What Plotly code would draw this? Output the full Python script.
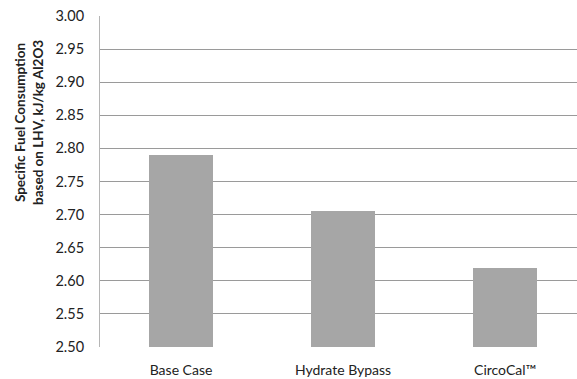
import plotly.graph_objects as go

categories = ["Base Case", "Hydrate Bypass", "CircoCal\u2122"]
fuel_consumption = [2.79, 2.705, 2.62]
y_ticks = [2.50, 2.55, 2.60, 2.65, 2.70, 2.75, 2.80, 2.85, 2.90, 2.95, 3.00]

fig = go.Figure()
fig.add_trace(go.Bar(
    x=categories,
    y=fuel_consumption,
    width=0.4,
    marker=dict(color="#a6a6a6", line=dict(width=0)),
))

font_family = "Lato, 'Open Sans', sans-serif"

fig.update_layout(
    width=577, height=379,
    margin=dict(l=100, r=0, t=16, b=32),
    paper_bgcolor="white",
    plot_bgcolor="white",
    showlegend=False,
    bargap=0,
    font=dict(family=font_family, color="#222"),
    xaxis=dict(
        range=[-0.5, 2.444],
        showgrid=False,
        showline=False,
        ticks="",
        tickfont=dict(size=14, color="#222"),
        ticklabelstandoff=13,
    ),
    yaxis=dict(
        range=[2.5, 3.0],
        tickvals=y_ticks,
        ticktext=[f"{v:.2f}" for v in y_ticks],
        showgrid=True,
        gridcolor="#9a9a9a",
        gridwidth=1,
        showline=True,
        linecolor="#b5b5b5",
        linewidth=1,
        ticks="outside",
        ticklen=0,
        tickfont=dict(size=14.5, color="#222"),
        ticklabelstandoff=12,
        zeroline=False,
    ),
    annotations=[
        dict(
            text="<b>Specific Fuel Consumption<br>based on LHV, kJ/kg Al2O3</b>",
            x=0, y=0, xref="paper", yref="paper",
            xanchor="center", yanchor="middle",
            textangle=-90, showarrow=False,
            font=dict(size=13.5, color="#222", family=font_family),
        )
    ],
)

# Position the rotated axis title in pixel terms
fig.layout.annotations[0].update(
    x=(29 - 100) / 477, y=1 - (123 - 16) / 331,
)

fig.write_html("out.html")
